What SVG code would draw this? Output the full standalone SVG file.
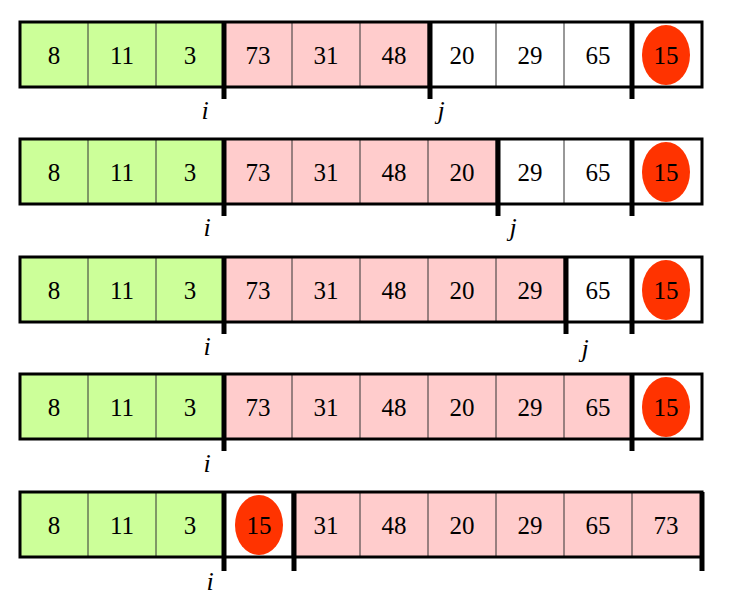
<svg xmlns="http://www.w3.org/2000/svg" width="730" height="602" viewBox="0 0 730 602">
<style>
.g{fill:#CCFF99}.p{fill:#FFCCCC}.w{fill:#FFFFFF}
.c{stroke:#333;stroke-width:1}
.o{fill:none;stroke:#000;stroke-width:3}
.b{stroke:#000;stroke-width:5}
.e{fill:#FF3300}
text{font-family:"Liberation Serif","Times New Roman",serif;font-size:25px;fill:#000;text-anchor:middle}
.l{font-style:italic;font-size:26px}
</style>
<defs>
<g id="cells">
<line class="c" x1="88" y1="0" x2="88" y2="65"/><line class="c" x1="156" y1="0" x2="156" y2="65"/>
<line class="c" x1="224" y1="0" x2="224" y2="65"/><line class="c" x1="292" y1="0" x2="292" y2="65"/>
<line class="c" x1="360" y1="0" x2="360" y2="65"/><line class="c" x1="428" y1="0" x2="428" y2="65"/>
<line class="c" x1="496" y1="0" x2="496" y2="65"/><line class="c" x1="564" y1="0" x2="564" y2="65"/>
<line class="c" x1="632" y1="0" x2="632" y2="65"/>
</g>
</defs>
<g id="row1" transform="translate(0,22)">
<rect class="g" x="20" y="0" width="204" height="65"/><rect class="p" x="224" y="0" width="204" height="65"/><rect class="w" x="428" y="0" width="274" height="65"/>
<use href="#cells"/>
<ellipse class="e" cx="666" cy="33" rx="24" ry="30"/>
<rect class="o" x="20" y="0" width="682" height="65"/>
<line class="b" x1="224" y1="0" x2="224" y2="77"/><line class="b" x1="430" y1="0" x2="430" y2="77"/><line class="b" x1="632" y1="0" x2="632" y2="77"/>
<text x="54" y="42">8</text><text x="122" y="42">11</text><text x="190" y="42">3</text><text x="258" y="42">73</text><text x="326" y="42">31</text><text x="394" y="42">48</text><text x="462" y="42">20</text><text x="530" y="42">29</text><text x="598" y="42">65</text><text x="666" y="42">15</text>
<text class="l" x="205" y="97">i</text><text class="l" x="441" y="97">j</text>
</g>
<g id="row2" transform="translate(0,139)">
<rect class="g" x="20" y="0" width="204" height="65"/><rect class="p" x="224" y="0" width="272" height="65"/><rect class="w" x="496" y="0" width="206" height="65"/>
<use href="#cells"/>
<ellipse class="e" cx="666" cy="33" rx="24" ry="30"/>
<rect class="o" x="20" y="0" width="682" height="65"/>
<line class="b" x1="224" y1="0" x2="224" y2="77"/><line class="b" x1="498" y1="0" x2="498" y2="77"/><line class="b" x1="632" y1="0" x2="632" y2="77"/>
<text x="54" y="42">8</text><text x="122" y="42">11</text><text x="190" y="42">3</text><text x="258" y="42">73</text><text x="326" y="42">31</text><text x="394" y="42">48</text><text x="462" y="42">20</text><text x="530" y="42">29</text><text x="598" y="42">65</text><text x="666" y="42">15</text>
<text class="l" x="207" y="97">i</text><text class="l" x="513" y="97">j</text>
</g>
<g id="row3" transform="translate(0,257)">
<rect class="g" x="20" y="0" width="204" height="65"/><rect class="p" x="224" y="0" width="340" height="65"/><rect class="w" x="564" y="0" width="138" height="65"/>
<use href="#cells"/>
<ellipse class="e" cx="666" cy="33" rx="24" ry="30"/>
<rect class="o" x="20" y="0" width="682" height="65"/>
<line class="b" x1="224" y1="0" x2="224" y2="77"/><line class="b" x1="566" y1="0" x2="566" y2="77"/><line class="b" x1="632" y1="0" x2="632" y2="77"/>
<text x="54" y="42">8</text><text x="122" y="42">11</text><text x="190" y="42">3</text><text x="258" y="42">73</text><text x="326" y="42">31</text><text x="394" y="42">48</text><text x="462" y="42">20</text><text x="530" y="42">29</text><text x="598" y="42">65</text><text x="666" y="42">15</text>
<text class="l" x="207" y="98">i</text><text class="l" x="585" y="100">j</text>
</g>
<g id="row4" transform="translate(0,374)">
<rect class="g" x="20" y="0" width="204" height="65"/><rect class="p" x="224" y="0" width="408" height="65"/><rect class="w" x="632" y="0" width="70" height="65"/>
<use href="#cells"/>
<ellipse class="e" cx="666" cy="33" rx="24" ry="30"/>
<rect class="o" x="20" y="0" width="682" height="65"/>
<line class="b" x1="224" y1="0" x2="224" y2="77"/><line class="b" x1="632" y1="0" x2="632" y2="77"/>
<text x="54" y="42">8</text><text x="122" y="42">11</text><text x="190" y="42">3</text><text x="258" y="42">73</text><text x="326" y="42">31</text><text x="394" y="42">48</text><text x="462" y="42">20</text><text x="530" y="42">29</text><text x="598" y="42">65</text><text x="666" y="42">15</text>
<text class="l" x="207" y="98">i</text>
</g>
<g id="row5" transform="translate(0,492)">
<rect class="g" x="20" y="0" width="204" height="65"/><rect class="w" x="224" y="0" width="68" height="65"/><rect class="p" x="292" y="0" width="410" height="65"/>
<use href="#cells"/>
<ellipse class="e" cx="259" cy="33" rx="24" ry="30"/>
<rect class="o" x="20" y="0" width="682" height="65"/>
<line class="b" x1="224" y1="0" x2="224" y2="79"/><line class="b" x1="294" y1="0" x2="294" y2="79"/><line class="b" x1="702" y1="0" x2="702" y2="79"/>
<text x="54" y="42">8</text><text x="122" y="42">11</text><text x="190" y="42">3</text><text x="259" y="42">15</text><text x="326" y="42">31</text><text x="394" y="42">48</text><text x="462" y="42">20</text><text x="530" y="42">29</text><text x="598" y="42">65</text><text x="666" y="42">73</text>
<text class="l" x="210" y="98">i</text>
</g>
</svg>
